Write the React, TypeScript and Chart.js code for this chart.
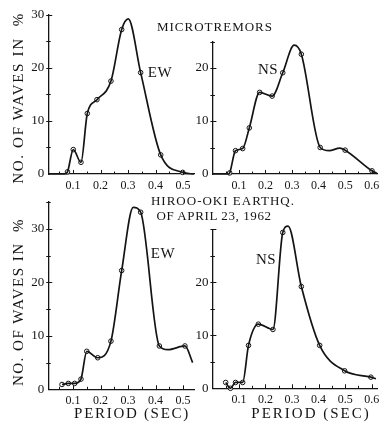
import React, { useEffect, useRef } from "react";
import { Chart, registerables } from "chart.js";
Chart.register(...registerables);

// ---- Microtremors, EW (measured points) ----
const mtEwX = [0.08, 0.101, 0.129, 0.152, 0.187, 0.238, 0.277, 0.346, 0.419, 0.499];
const mtEwY = [0.4, 4.6, 2.2, 11.4, 14.0, 17.5, 27.2, 19.1, 3.6, 0.3];
// curve shape points (no marker)
const mtEwCurveX = [0.01, 0.07, 0.301, 0.54];
const mtEwCurveY = [0, 0, 29.2, 0];

// ---- Microtremors, NS ----
const mtNsX = [0.065, 0.087, 0.114, 0.139, 0.178, 0.225, 0.265, 0.335, 0.406, 0.5, 0.601];
const mtNsY = [0.2, 4.4, 4.8, 8.7, 15.4, 14.7, 19.1, 22.6, 5.0, 4.5, 0.6];
const mtNsCurveX = [0.0, 0.06, 0.308, 0.44, 0.48, 0.62];
const mtNsCurveY = [0, 0, 24.3, 4.4, 4.9, 0.1];

// ---- Hiroo-oki earthquake, EW ----
const eqEwX = [0.06, 0.083, 0.106, 0.129, 0.15, 0.19, 0.238, 0.277, 0.346, 0.414, 0.507];
const eqEwY = [0.9, 1.1, 1.1, 1.9, 7.1, 5.9, 9.0, 22.2, 33.1, 8.1, 8.1];
const eqEwCurveX = [0.319, 0.445, 0.535];
const eqEwCurveY = [34.0, 7.4, 5.0];

// ---- Hiroo-oki earthquake, NS ----
const eqNsX = [0.05, 0.068, 0.087, 0.114, 0.136, 0.173, 0.228, 0.265, 0.335, 0.404, 0.498, 0.597];
const eqNsY = [1.1, 0.0, 1.1, 1.1, 8.1, 12.1, 11.1, 29.4, 19.2, 8.1, 3.3, 2.1];
const eqNsCurveX = [0.285, 0.616];
const eqNsCurveY = [30.6, 1.8];

const Y_TITLE = "NO. OF WAVES IN  %";
const X_TITLE = "PERIOD (SEC)";
const INK = "#141414";
const FONT = "'Liberation Serif', 'DejaVu Serif', serif";

type Pt = { x: number; y: number };
const toPts = (xs: number[], ys: number[]): Pt[] => xs.map((x, i) => ({ x, y: ys[i] }));
const curveOf = (mx: number[], my: number[], cx: number[], cy: number[]) =>
  toPts(mx, my).concat(toPts(cx, cy)).sort((a, b) => a.x - b.x);

type Spec = {
  left: number; top: number; width: number; height: number;
  area: { l: number; t: number; r: number; b: number };
  xMin: number; xMax: number; yMax: number; yLabelMax: number; xPad: number;
  markers: Pt[]; curve: Pt[];
};

const specs: Spec[] = [
  {
    left: 0, top: 0, width: 200, height: 196,
    area: { l: 48.25, t: 14.7, r: 194, b: 174 },
    xMin: 0.01, xMax: 0.54, yMax: 30, yLabelMax: 30, xPad: 5,
    markers: toPts(mtEwX, mtEwY), curve: curveOf(mtEwX, mtEwY, mtEwCurveX, mtEwCurveY),
  },
  {
    left: 186, top: 0, width: 196, height: 196,
    area: { l: 212.4, t: 41.5, r: 380.4, b: 174 },
    xMin: 0, xMax: 0.62, yMax: 25, yLabelMax: 20, xPad: 5,
    markers: toPts(mtNsX, mtNsY), curve: curveOf(mtNsX, mtNsY, mtNsCurveX, mtNsCurveY),
  },
  {
    left: 0, top: 196, width: 200, height: 210,
    area: { l: 48.25, t: 202.05, r: 194, b: 389.3 },
    xMin: 0.01, xMax: 0.54, yMax: 35, yLabelMax: 30, xPad: 4,
    markers: toPts(eqEwX, eqEwY), curve: curveOf(eqEwX, eqEwY, eqEwCurveX, eqEwCurveY),
  },
  {
    left: 186, top: 196, width: 196, height: 210,
    area: { l: 212.4, t: 229.3, r: 380.4, b: 388.3 },
    xMin: 0, xMax: 0.62, yMax: 30, yLabelMax: 20, xPad: 4,
    markers: toPts(eqNsX, eqNsY), curve: curveOf(eqNsX, eqNsY, eqNsCurveX, eqNsCurveY),
  },
];

const isTenth = (v: number) => Math.abs(v * 10 - Math.round(v * 10)) < 1e-6;

const inwardTicks = {
  id: "inwardTicks",
  afterDraw(chart: any) {
    const { ctx, chartArea, scales } = chart;
    const x = scales.x, y = scales.y;
    ctx.save();
    ctx.strokeStyle = INK;
    ctx.lineWidth = 1;
    x.ticks.forEach((t: any) => {
      const px = Math.round(x.getPixelForValue(t.value)) + 0.5;
      const len = isTenth(t.value) ? 4 : 2.5;
      ctx.beginPath();
      ctx.moveTo(px, chartArea.bottom);
      ctx.lineTo(px, chartArea.bottom - len);
      ctx.stroke();
    });
    y.ticks.forEach((t: any) => {
      if (t.value === 0) return;
      const py = Math.round(y.getPixelForValue(t.value)) + 0.5;
      const len = t.value % 10 === 0 ? 4 : 2.5;
      ctx.beginPath();
      ctx.moveTo(chartArea.left - 2, py);
      ctx.lineTo(chartArea.left + len, py);
      ctx.stroke();
    });
    ctx.restore();
  },
};

function Panel({ spec }: { spec: Spec }) {
  const ref = useRef<HTMLCanvasElement>(null);
  useEffect(() => {
    const { left, top, width, height, area } = spec;
    const yW = area.l - left;
    const xH = top + height - area.b;
    const chart = new Chart(ref.current as HTMLCanvasElement, {
      type: "line",
      data: {
        datasets: [
          {
            data: spec.curve as any,
            borderColor: INK,
            borderWidth: 1.7,
            pointRadius: 0,
            cubicInterpolationMode: "monotone",
            fill: false,
            clip: false as any,
          },
          {
            data: spec.markers as any,
            showLine: false,
            pointRadius: 2.3,
            pointBackgroundColor: "#ffffff",
            pointBorderColor: INK,
            pointBorderWidth: 1,
            clip: false as any,
          },
        ],
      },
      options: {
        responsive: false,
        animation: false,
        devicePixelRatio: 1,
        layout: {
          padding: { left: 0, top: area.t - top, right: left + width - area.r, bottom: 0 },
        },
        plugins: { legend: { display: false }, tooltip: { enabled: false } },
        scales: {
          x: {
            type: "linear",
            min: spec.xMin,
            max: spec.xMax,
            afterFit: (s: any) => {
              s.height = xH;
              s.paddingLeft = 0;
              s.paddingRight = 0;
            },
            grid: { display: false, drawTicks: false },
            border: { display: true, color: INK, width: 1.3 },
            ticks: {
              stepSize: 0.05,
              includeBounds: false,
              autoSkip: false,
              maxRotation: 0,
              padding: spec.xPad,
              color: INK,
              font: { family: FONT, size: 12 },
              callback: (v: any) => (isTenth(Number(v)) && Number(v) > 0.001 ? Number(v).toFixed(1) : ""),
            },
          },
          y: {
            type: "linear",
            min: 0,
            max: spec.yMax,
            afterFit: (s: any) => {
              s.width = yW;
              s.paddingTop = 0;
              s.paddingBottom = 0;
            },
            grid: { display: false, drawTicks: false },
            border: { display: true, color: INK, width: 1.3 },
            ticks: {
              stepSize: 5,
              autoSkip: false,
              padding: 4,
              color: INK,
              font: { family: FONT, size: 13 },
              callback: (v: any) =>
                Number(v) % 10 === 0 && Number(v) <= spec.yLabelMax ? String(v) : "",
            },
          },
        },
      },
      plugins: [inwardTicks],
    } as any);
    return () => chart.destroy();
  }, [spec]);
  return (
    <canvas
      ref={ref}
      width={spec.width}
      height={spec.height}
      style={{ position: "absolute", left: spec.left, top: spec.top, width: spec.width, height: spec.height }}
    />
  );
}

const txt = (
  s: string,
  cx: number,
  cy: number,
  size: number,
  spacing: number,
  rotate = false
) => (
  <div
    key={s + cx + cy}
    style={{
      position: "absolute",
      left: cx,
      top: cy,
      transform: `translate(-50%, -50%)${rotate ? " rotate(-90deg)" : ""}`,
      fontFamily: FONT,
      fontSize: size,
      letterSpacing: spacing,
      color: INK,
      whiteSpace: "pre",
      lineHeight: 1,
    }}
  >
    {s}
  </div>
);

export default function App() {
  return (
    <div
      style={{
        position: "fixed",
        left: 0,
        top: 0,
        width: 382,
        height: 427,
        background: "#ffffff",
        overflow: "hidden",
      }}
    >
      {specs.map((s, i) => (
        <Panel key={i} spec={s} />
      ))}
      {txt(Y_TITLE, 18, 98, 15, 1.7, true)}
      {txt(Y_TITLE, 18, 302, 15, 1.5, true)}
      {txt("MICROTREMORS", 215, 26, 13, 1)}
      {txt("EW", 160, 72, 15, 0.5)}
      {txt("NS", 268, 69, 15, 0.5)}
      {txt("HIROO-OKI EARTHQ.", 223, 200, 13, 1)}
      {txt("OF APRIL 23, 1962", 214, 215, 13, 0.6)}
      {txt("EW", 163, 253, 15, 0.5)}
      {txt("NS", 266, 259, 15, 0.5)}
      {txt(X_TITLE, 132, 413, 15, 1.7)}
      {txt(X_TITLE, 311, 413, 15, 2)}
    </div>
  );
}
